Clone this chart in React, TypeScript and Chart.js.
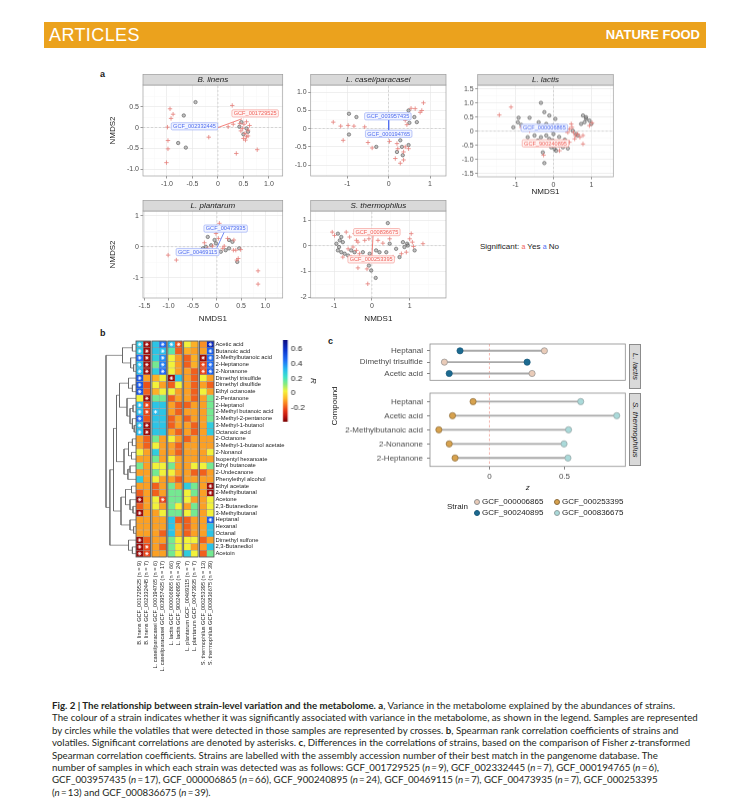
import React, { useEffect, useRef } from "react";
import { Chart, registerables } from "chart.js";
Chart.register(...registerables);

const FONT = "'Liberation Sans', Arial, Helvetica, sans-serif";
Chart.defaults.font.family = FONT;
Chart.defaults.color = "#4D4D4D";

// ================= Panel a: NMDS data =================
const nmdsTitles = ["B. linens", "L. casei/paracasei", "L. lactis", "L. plantarum", "S. thermophilus"];

const blinensSamples = [[-0.44, 0.61], [-0.67, 0.29], [-0.78, -0.37], [-0.63, -0.48], [0.46, 0.13], [0.56, -0.02], [0.5, -0.16], [0.59, -0.1], [0.42, 0.02]];
const blinensVolatiles = [[-0.94, 0.45], [-0.88, 0.32], [-0.92, 0.22], [-0.99, 0.01], [-0.98, -0.31], [-0.98, -0.51], [-1.01, -0.84], [-0.18, -0.23], [0.28, 0.53], [0.36, -0.62], [0.77, -0.53], [0.43, 0.1], [0.51, 0.08], [0.56, 0.14], [0.48, -0.02], [0.59, -0.06], [0.53, -0.14], [0.56, -0.22], [0.5, -0.26], [0.54, -0.3], [0.59, -0.2], [0.3, 0.08], [0.2, 0.02], [0.62, 0.05], [0.45, -0.08]];
const blinensXTicks = [-1.0, -0.5, 0, 0.5, 1.0];
const blinensYTicks = [-1.0, -0.5, 0, 0.5];
const blinensLabels = [{ x: 0.73, y: 0.34, text: "GCF_001729525", sig: true }, { x: -0.46, y: 0.03, text: "GCF_002332445", sig: false }];
const blinensVectors = [{ from: [0, 0], to: [0.47, 0.21], sig: true }];

const caseiSamples = [[-0.96, 0.41], [-0.78, 0.32], [-0.96, -0.16], [-0.3, -0.5], [0.5, 0.16], [0.62, 0.32], [0.68, 0.18], [0.48, 0.5], [0.28, -0.32], [0.2, -0.64], [0.34, -0.73], [0.32, -0.5], [0.48, -0.45]];
const caseiVolatiles = [[-1.34, 0.18], [-1.16, 0.07], [-0.98, 0.09], [-0.84, 0.07], [-1.1, -0.32], [-0.58, 0.05], [-0.5, -0.38], [-0.4, -0.53], [-0.24, -0.18], [0.02, -0.35], [0.2, -0.41], [0.54, 0.56], [0.64, 0.55], [0.8, 0.5], [0.84, 0.71], [0.76, 0.45], [0.4, 0.23], [0.28, 0.36], [0.44, 0.11], [0.22, -0.55], [0.36, -0.64], [0.16, -0.82], [0.36, -0.86], [0.28, -0.95], [0.4, -0.5], [0.48, -0.55]];
const caseiXTicks = [-1, 0, 1];
const caseiYTicks = [-1.0, -0.5, 0, 0.5, 1.0];
const caseiLabels = [{ x: -0.02, y: 0.34, text: "GCF_003957435", sig: false }, { x: 0, y: -0.14, text: "GCF_000194765", sig: false }];
const caseiVectors = [{ from: [0, 0.25], to: [0, -0.04], sig: false }];

const lactisSamples = [[-0.33, 1.01], [-0.92, 0.48], [-0.63, 0.48], [-1.06, 0.14], [-0.94, 0.32], [-0.85, 0.23], [-0.24, 0.68], [-0.11, 0.56], [0.05, 0.44], [-0.39, 0.32], [-0.19, 0.26], [-0.02, 0.2], [0.11, 0.2], [0.25, 0.08], [-0.5, -0.15], [-0.33, -0.21], [-0.19, -0.15], [-0.11, -0.27], [-0.02, -0.33], [0.07, -0.39], [0.16, -0.51], [-0.06, -0.57], [0.03, -0.63], [-0.15, -0.45], [-0.28, -0.75], [-0.24, -1.13], [0.07, -0.69], [0.25, -0.57], [0.38, -0.61], [0.78, 0.56], [0.86, 0.44], [0.95, 0.38], [0.82, 0.32], [0.73, 0.26], [1.0, 0.26], [0.86, 0.5], [0.51, 0.02], [0.6, -0.1], [0.64, -0.15], [-0.28, -0.39], [-0.41, -0.33], [-0.68, -0.21], [0.0, -0.1], [0.15, -0.2], [-0.05, 0.05], [0.3, -0.3]];
const lactisVolatiles = [[-1.12, 0.86], [-1.43, 0.58], [-0.85, 0.14], [-0.63, 0.02], [-0.41, 0.08], [0.33, 0.02], [0.42, 0.08], [0.49, 0.14], [0.53, -0.04], [0.58, -0.15], [0.64, -0.1], [0.7, -0.21], [0.78, -0.15], [0.56, -0.27], [0.42, -0.39], [-0.26, -0.85], [0.16, -0.69], [0.29, -0.33], [0.78, -0.45], [0.95, 0.2], [1.02, 0.3], [0.47, 0.26], [0.38, -0.04]];
const lactisXTicks = [-1, 0, 1];
const lactisYTicks = [-1.5, -1.0, -0.5, 0, 0.5, 1.0, 1.5];
const lactisLabels = [{ x: -0.24, y: 0.12, text: "GCF_000006865", sig: false }, { x: -0.21, y: -0.43, text: "GCF_900240895", sig: true }];
const lactisVectors = [];

const plantarumSamples = [[-0.19, 0.32], [-0.05, 0.22], [-0.12, 0.05], [-0.23, 0.0], [-0.02, 0.11], [0.25, 0.22], [0.32, 0.16], [0.08, -0.16], [0.18, -0.11], [0.25, -0.05], [0.46, -0.05], [0.42, -0.49], [-0.29, -0.05]];
const plantarumVolatiles = [[-1.01, -0.27], [-0.84, -0.43], [-0.26, 0.13], [-0.19, -0.05], [-0.09, 0.02], [0.05, 0.76], [-0.02, 0.43], [0.03, 0.27], [0.22, 0.27], [0.35, 0.22], [0.34, -0.11], [0.39, -0.11], [0.49, -0.09], [0.44, -0.38], [0.41, -0.43], [0.85, -0.78], [0.85, -1.21], [0.12, -0.05], [0.15, 0.02]];
const plantarumXTicks = [-1.5, -1.0, -0.5, 0, 0.5, 1.0];
const plantarumYTicks = [-1, 0, 1];
const plantarumLabels = [{ x: 0.18, y: 0.59, text: "GCF_00473935", sig: false }, { x: -0.4, y: -0.17, text: "GCF_00469115", sig: false }];
const plantarumVectors = [{ from: [0.0, -0.03], to: [0.15, 0.48], sig: false }];

const thermoSamples = [[-0.9, 0.47], [-0.81, 0.34], [-0.85, 0.21], [-0.77, 0.14], [-0.94, 0.08], [-0.87, -0.05], [-0.81, -0.25], [-0.72, -0.31], [-0.63, -0.38], [-0.55, -0.18], [-0.46, -0.25], [-0.9, -0.18], [-0.13, -0.51], [-0.08, -0.77], [-0.02, -0.96], [0.1, -1.25], [0.2, -0.25], [0.38, -0.25], [0.47, 0.08], [0.64, -0.12], [0.82, 0.14], [0.93, 0.08], [0.95, 0.01], [0.86, -0.05], [1.13, -0.18], [0.73, -0.44], [0.11, -0.18], [-0.06, -0.31], [-0.24, -0.25], [0.42, 0.88]];
const thermoVolatiles = [[-1.05, 0.53], [-0.99, 0.4], [-0.68, 0.53], [-0.59, 0.34], [-0.46, 0.47], [-0.37, 0.14], [-0.5, -0.05], [-0.63, -0.12], [-0.41, -0.18], [-0.33, -0.31], [-0.77, -0.44], [-0.55, -0.44], [-0.41, 0.21], [-0.19, 0.21], [-0.08, 0.27], [0.16, 0.21], [0.29, 0.1], [0.47, 0.27], [0.78, -0.31], [1.04, 0.47], [1.0, 0.27], [1.07, 0.14], [1.1, -0.03], [1.35, 0.08], [-0.13, -0.9], [-0.11, -1.48], [-0.37, -0.86], [0.56, -0.44], [0.91, -0.25]];
const thermoXTicks = [-1, 0, 1];
const thermoYTicks = [-2, -1, 0, 1];
const thermoLabels = [{ x: 0.13, y: 0.53, text: "GCF_000836675", sig: true }, { x: -0.02, y: -0.53, text: "GCF_000253395", sig: true }];
const thermoVectors = [{ from: [0.03, 0.4], to: [0.0, -0.4], sig: true }];

// ================= Panel b: heatmap data =================
const compounds = ["Acetic acid", "Butanoic acid", "3-Methylbutanoic acid", "2-Heptanone", "2-Nonanone", "Dimethyl trisulfide", "Dimethyl disulfide", "Ethyl octanoate", "2-Pentanone", "2-Heptanol", "2-Methyl butanoic acid", "3-Methyl-2-pentanone", "3-Methyl-1-butanol", "Octanoic acid", "2-Octanone", "3-Methyl-1-butanol acetate", "2-Nonanol", "Isopentyl hexanoate", "Ethyl butanoate", "2-Undecanone", "Phenylethyl alcohol", "Ethyl acetate", "2-Methylbutanal", "Acetone", "2,3-Butanedione", "3-Methylbutanal", "Heptanal", "Hexanal", "Octanal", "Dimethyl sulfone", "2,3-Butanediol", "Acetoin"];
const strainColumns = ["B. linens GCF_001729525 (n = 9)", "B. linens GCF_002332445 (n = 7)", "L. casei/paracasei GCF_000194765 (n = 6)", "L. casei/paracasei GCF_003957435 (n = 17)", "L. lactis GCF_000006865 (n = 66)", "L. lactis GCF_900240895 (n = 24)", "L. plantarum GCF_00469115 (n = 7)", "L. plantarum GCF_00473935 (n = 7)", "S. thermophilus GCF_000253395 (n = 13)", "S. thermophilus GCF_000836675 (n = 39)"];
const corrMatrix = [
  [0.30, -0.35, 0.30, 0.45, 0.32, -0.20, 0.03, -0.08, -0.12, 0.62],
  [0.30, -0.35, 0.30, 0.32, 0.18, -0.18, -0.08, -0.10, -0.10, 0.48],
  [0.45, -0.35, 0.28, 0.40, 0.03, -0.10, -0.18, -0.08, -0.35, 0.45],
  [0.32, -0.35, 0.15, 0.42, 0.03, -0.10, -0.18, -0.08, -0.22, 0.45],
  [0.33, -0.35, 0.28, 0.45, 0.03, -0.10, -0.10, -0.18, -0.22, 0.48],
  [0.50, -0.10, -0.08, 0.03, -0.35, 0.30, -0.10, -0.18, 0.03, -0.10],
  [0.50, -0.20, 0.03, -0.10, -0.18, 0.03, -0.10, -0.18, -0.10, -0.18],
  [0.50, -0.18, -0.08, 0.03, 0.03, -0.10, -0.10, -0.18, 0.03, -0.10],
  [0.03, -0.35, 0.15, 0.15, -0.18, -0.10, -0.10, -0.18, -0.10, 0.15],
  [0.32, -0.22, 0.30, 0.30, -0.10, -0.18, -0.18, -0.10, -0.10, 0.15],
  [0.32, -0.22, 0.32, 0.30, -0.10, -0.18, -0.10, -0.10, -0.10, 0.15],
  [0.45, -0.20, 0.30, 0.30, -0.18, -0.10, -0.18, -0.10, -0.10, 0.15],
  [0.32, -0.35, 0.30, 0.30, -0.18, -0.10, -0.10, -0.18, -0.10, 0.28],
  [0.32, -0.35, 0.30, 0.30, -0.10, -0.18, -0.10, -0.18, -0.10, 0.28],
  [-0.10, -0.18, 0.15, -0.10, 0.03, -0.10, -0.18, -0.10, -0.10, -0.10],
  [-0.10, -0.18, 0.03, -0.10, -0.10, -0.18, -0.10, -0.10, -0.10, -0.10],
  [0.03, -0.10, 0.28, -0.10, -0.10, -0.18, -0.10, -0.10, -0.10, 0.03],
  [-0.10, -0.10, 0.15, -0.10, 0.03, -0.10, -0.10, -0.10, -0.10, -0.10],
  [0.15, -0.10, 0.03, 0.03, 0.15, -0.10, -0.10, 0.03, 0.03, 0.15],
  [-0.10, -0.10, 0.15, 0.03, 0.03, -0.10, -0.10, -0.18, -0.18, -0.10],
  [0.28, -0.10, 0.03, -0.10, -0.10, -0.18, -0.10, -0.10, -0.10, -0.10],
  [-0.10, -0.10, -0.18, -0.10, 0.15, -0.10, 0.28, 0.15, -0.10, -0.35],
  [-0.18, -0.10, -0.18, -0.10, 0.15, 0.15, 0.03, 0.15, -0.10, -0.35],
  [-0.35, -0.10, 0.03, -0.22, 0.15, 0.15, 0.03, -0.10, -0.10, 0.03],
  [-0.18, -0.10, 0.03, -0.10, 0.15, 0.03, -0.10, 0.15, -0.10, 0.03],
  [-0.35, -0.10, -0.10, 0.03, 0.15, 0.15, 0.03, 0.15, -0.10, 0.03],
  [-0.10, -0.10, -0.10, -0.10, 0.30, -0.18, -0.18, -0.10, -0.10, 0.48],
  [-0.10, -0.10, -0.10, -0.10, 0.30, -0.10, -0.18, -0.10, -0.10, 0.30],
  [-0.10, -0.10, -0.10, -0.18, 0.30, -0.10, -0.18, -0.10, -0.10, 0.30],
  [-0.35, -0.18, -0.10, -0.10, 0.15, 0.03, 0.03, 0.03, -0.18, -0.10],
  [-0.35, -0.22, -0.10, -0.18, 0.15, 0.03, 0.03, -0.10, -0.10, 0.30],
  [-0.35, -0.22, -0.10, -0.10, 0.15, 0.03, 0.28, 0.03, -0.18, 0.15],
];
// significant cells (column indices) per compound row
const sigCells = [[0, 1, 3, 4, 5, 9], [0, 1, 3, 9], [0, 1, 3, 8, 9], [0, 1, 3, 8, 9], [0, 1, 3, 8, 9], [0, 4], [0], [0], [1], [0, 1], [0, 1, 2], [0], [0, 1], [0, 1], [], [], [], [], [], [], [], [9], [9], [0, 3], [], [0], [9], [], [], [0], [0, 1], [0, 1]];
// hierarchical clustering of compounds: [left, right, height], leaves = row index
const clusterAcids = [[0, 1, 0.12], [2, [3, 4, 0.08], 0.18], 0.45];
const clusterSulfur = [[5, [6, 7, 0.12], 0.25], [8, [[9, 10, 0.1], [11, [12, 13, 0.06], 0.12], 0.2], 0.3], 0.55];
const clusterEsters = [[[14, 15, 0.12], [16, 17, 0.15], 0.25], [[18, 19, 0.2], 20, 0.27], 0.4];
const clusterCarbonyl = [[21, 22, 0.15], [23, [24, 25, 0.1], 0.2], 0.35];
const clusterAldehydes = [26, [27, 28, 0.08], 0.2];
const clusterDiols = [29, [30, 31, 0.12], 0.25];
const dendroTree = [clusterAcids, [[[clusterSulfur, clusterEsters, 0.65], [clusterCarbonyl, clusterAldehydes, 0.5], 0.75], clusterDiols, 0.87], 1.0];
// colour scale
const paletteValues = [-0.39, -0.31, -0.23, -0.15, -0.07, 0.03, 0.12, 0.22, 0.33, 0.45, 0.6, 0.73];
const paletteColors = ["#7A0000", "#C0140F", "#E63A16", "#F7771F", "#FDB827", "#F2F23A", "#8CEB7A", "#3DE3C8", "#25B8F0", "#1E6CF5", "#0A2FC8", "#0B0B80"];
const colorbarRange = [-0.387, 0.726];
const colorbarTicks = [-0.2, 0, 0.2, 0.4, 0.6];

// ================= Panel c: lollipop data =================
const lactisCompounds = ["Heptanal", "Dimethyl trisulfide", "Acetic acid"];
const lactisZ_000006865 = [0.366, -0.3, 0.284];
const lactisZ_900240895 = [-0.196, 0.251, -0.268];
const thermoCompounds = ["Heptanal", "Acetic acid", "2-Methylbutanoic acid", "2-Nonanone", "2-Heptanone"];
const thermoZ_000253395 = [-0.109, -0.246, -0.337, -0.268, -0.229];
const thermoZ_000836675 = [0.608, 0.848, 0.527, 0.497, 0.523];
const lolliXTicks = [0, 0.5];
const lolliXRange = [-0.396, 0.905];
const strainNames = ["GCF_000006865", "GCF_000253395", "GCF_900240895", "GCF_000836675"];
const strainFill = { GCF_000006865: "#E9CBB8", GCF_000253395: "#D7A24E", GCF_900240895: "#1C6A90", GCF_000836675: "#AADADA" };
const strainStroke = { GCF_000006865: "#8F8F8F", GCF_000253395: "#8A6A3A", GCF_900240895: "#17587A", GCF_000836675: "#8F9F9F" };

// ================= helpers =================
const SIG = {
  yes: { text: "#F0625A", stroke: "#F3938D", fill: "#FFF3F2" },
  no: { text: "#4E6CF0", stroke: "#8EA2F5", fill: "#F1F4FF" },
};

function hexToRgb(h) {
  const n = parseInt(h.slice(1), 16);
  return [(n >> 16) & 255, (n >> 8) & 255, n & 255];
}
function corrColor(v) {
  const vals = paletteValues;
  if (v <= vals[0]) return paletteColors[0];
  if (v >= vals[vals.length - 1]) return paletteColors[vals.length - 1];
  for (let i = 0; i < vals.length - 1; i++) {
    if (v >= vals[i] && v <= vals[i + 1]) {
      const t = (v - vals[i]) / (vals[i + 1] - vals[i]);
      const a = hexToRgb(paletteColors[i]), b = hexToRgb(paletteColors[i + 1]);
      const c = a.map((x, k) => Math.round(x + (b[k] - x) * t));
      return `rgb(${c[0]},${c[1]},${c[2]})`;
    }
  }
  return "#fff";
}
function fmtTick(v, dec) {
  if (Math.abs(v) < 1e-9) return "0";
  return (v < 0 ? "-" : "") + Math.abs(v).toFixed(dec);
}
function withMinor(major, range) {
  const out = [...major];
  for (let i = 0; i < major.length - 1; i++) out.push((major[i] + major[i + 1]) / 2);
  const step = major[1] - major[0];
  const lo = major[0] - step / 2, hi = major[major.length - 1] + step / 2;
  if (lo > range[0]) out.push(lo);
  if (hi < range[1]) out.push(hi);
  return out.sort((a, b) => a - b);
}

const framePlugin = {
  id: "frame",
  afterDatasetsDraw(chart, _a, opts) {
    const a = chart.chartArea;
    const ctx = chart.ctx;
    ctx.save();
    ctx.strokeStyle = (opts && opts.color) || "#999";
    ctx.lineWidth = (opts && opts.width) || 0.7;
    ctx.strokeRect(a.left, a.top, a.right - a.left, a.bottom - a.top);
    ctx.restore();
  },
};

const stripPlugin = {
  id: "strip",
  afterDraw(chart, _a, opts) {
    if (!opts || !opts.text) return;
    const a = chart.chartArea;
    const ctx = chart.ctx;
    const h = opts.height;
    ctx.save();
    ctx.fillStyle = "#D9D9D9";
    ctx.fillRect(a.left, a.top - h, a.right - a.left, h);
    ctx.strokeStyle = "#9A9A9A";
    ctx.lineWidth = 0.7;
    ctx.strokeRect(a.left, a.top - h, a.right - a.left, h);
    ctx.fillStyle = "#1A1A1A";
    ctx.font = `italic 8px ${FONT}`;
    ctx.textAlign = "center";
    ctx.textBaseline = "middle";
    ctx.fillText(opts.text, (a.left + a.right) / 2, a.top - h / 2 + 0.5);
    ctx.restore();
  },
};

const gcfLabelPlugin = {
  id: "gcfLabels",
  afterDatasetsDraw(chart, _a, opts) {
    const items = (opts && opts.items) || [];
    const ctx = chart.ctx;
    const xs = chart.scales.x, ys = chart.scales.y;
    ctx.save();
    ctx.font = `5.6px ${FONT}`;
    ctx.textAlign = "center";
    ctx.textBaseline = "middle";
    for (const it of items) {
      const px = xs.getPixelForValue(it.x), py = ys.getPixelForValue(it.y);
      const w = ctx.measureText(it.text).width + 3.6, h = 7.2;
      const c = it.sig ? SIG.yes : SIG.no;
      ctx.beginPath();
      if (ctx.roundRect) ctx.roundRect(px - w / 2, py - h / 2, w, h, 1.3);
      else ctx.rect(px - w / 2, py - h / 2, w, h);
      ctx.fillStyle = c.fill;
      ctx.fill();
      ctx.lineWidth = 0.6;
      ctx.strokeStyle = c.stroke;
      ctx.stroke();
      ctx.fillStyle = c.text;
      ctx.fillText(it.text, px, py + 0.3);
    }
    ctx.restore();
  },
};

function nmdsAxis(major, range, fit, title, showTitle) {
  const dec = major.some((v) => !Number.isInteger(v)) ? 1 : 0;
  const all = withMinor(major, range);
  const isMaj = (v) => major.some((t) => Math.abs(t - v) < 1e-9);
  const tv = (c) => (c && c.tick ? c.tick.value : NaN);
  return {
    type: "linear",
    min: range[0],
    max: range[1],
    afterBuildTicks: (s) => { s.ticks = all.map((v) => ({ value: v })); },
    afterFit: fit,
    ticks: { autoSkip: false, maxRotation: 0, minRotation: 0, font: { size: 7 }, color: "#4D4D4D", padding: 1.5, callback: (v) => (isMaj(v) ? fmtTick(v, dec) : "") },
    grid: {
      color: (c) => (isMaj(tv(c)) ? "#E4E4E4" : "#F2F2F2"),
      lineWidth: (c) => (isMaj(tv(c)) ? 0.6 : 0.35),
      tickColor: (c) => (isMaj(tv(c)) ? "#555" : "rgba(0,0,0,0)"),
      tickLength: 2.5,
      drawTicks: true,
    },
    border: { display: false },
    title: { display: showTitle, text: title, font: { size: 8 }, color: "#1A1A1A", padding: 0 },
  };
}

function nmdsConfig(p) {
  const H = p.canvas.top + p.canvas.height;
  const R = p.canvas.left + p.canvas.width;
  const pts = (arr) => arr.map(([x, y]) => ({ x, y }));
  const datasets = [
    { type: "scatter", data: pts(p.samples), pointStyle: "circle", pointRadius: 1.7, pointBackgroundColor: "rgba(130,130,130,0.5)", pointBorderColor: "#555", pointBorderWidth: 0.6, order: 3 },
    { type: "scatter", data: pts(p.volatiles), pointStyle: "cross", pointRadius: 2.2, pointBorderColor: "#E57F7A", pointBorderWidth: 0.8, order: 2 },
    ...p.vectors.map((v) => ({ type: "line", data: [{ x: v.from[0], y: v.from[1] }, { x: v.to[0], y: v.to[1] }], borderColor: v.sig ? SIG.yes.text : SIG.no.text, borderWidth: 0.8, pointRadius: 0, order: 1 })),
    { type: "line", data: [{ x: p.xRange[0], y: 0 }, { x: p.xRange[1], y: 0 }], borderColor: "#C4C4C4", borderDash: [2, 2], borderWidth: 0.6, pointRadius: 0, order: 10 },
    { type: "line", data: [{ x: 0, y: p.yRange[0] }, { x: 0, y: p.yRange[1] }], borderColor: "#C4C4C4", borderDash: [2, 2], borderWidth: 0.6, pointRadius: 0, order: 10 },
  ];
  return {
    type: "scatter",
    data: { datasets },
    options: {
      animation: false,
      responsive: true,
      maintainAspectRatio: false,
      events: [],
      layout: { padding: { left: 0, top: p.area.t - p.canvas.top, right: R - p.area.r, bottom: 0 } },
      plugins: {
        legend: { display: false },
        tooltip: { enabled: false },
        frame: { color: "#A0A0A0", width: 0.7 },
        strip: { text: p.title, height: 10.5 },
        gcfLabels: { items: p.labels },
      },
      scales: {
        x: nmdsAxis(p.xTicks, p.xRange, (s) => { s.height = H - p.area.b; }, "NMDS1", p.xTitle),
        y: nmdsAxis(p.yTicks, p.yRange, (s) => { s.width = p.area.l - p.canvas.left; }, "NMDS2", p.yTitle),
      },
    },
    plugins: [framePlugin, stripPlugin, gcfLabelPlugin],
  };
}

const panelA = [
  { title: nmdsTitles[0], samples: blinensSamples, volatiles: blinensVolatiles, xTicks: blinensXTicks, yTicks: blinensYTicks, xRange: [-1.47, 1.27], yRange: [-1.16, 1.02], labels: blinensLabels, vectors: blinensVectors, area: { l: 143, t: 85, r: 282.7, b: 176 }, canvas: { left: 108, top: 73, width: 182, height: 117 }, xTitle: false, yTitle: true },
  { title: nmdsTitles[1], samples: caseiSamples, volatiles: caseiVolatiles, xTicks: caseiXTicks, yTicks: caseiYTicks, xRange: [-1.885, 1.385], yRange: [-1.3, 1.2], labels: caseiLabels, vectors: caseiVectors, area: { l: 310.7, t: 85, r: 446, b: 176 }, canvas: { left: 290, top: 73, width: 162, height: 117 }, xTitle: false, yTitle: false },
  { title: nmdsTitles[2], samples: lactisSamples, volatiles: lactisVolatiles, xTicks: lactisXTicks, yTicks: lactisYTicks, xRange: [-2.0, 1.58], yRange: [-1.62, 1.64], labels: lactisLabels, vectors: lactisVectors, area: { l: 477.7, t: 85, r: 613.3, b: 176 }, canvas: { left: 456, top: 73, width: 164, height: 122.8 }, xTitle: true, yTitle: false },
  { title: nmdsTitles[3], samples: plantarumSamples, volatiles: plantarumVolatiles, xTicks: plantarumXTicks, yTicks: plantarumYTicks, xRange: [-1.53, 1.36], yRange: [-1.66, 1.16], labels: plantarumLabels, vectors: plantarumVectors, area: { l: 143, t: 211, r: 282.7, b: 298 }, canvas: { left: 108, top: 199, width: 182, height: 124.1 }, xTitle: true, yTitle: true },
  { title: nmdsTitles[4], samples: thermoSamples, volatiles: thermoVolatiles, xTicks: thermoXTicks, yTicks: thermoYTicks, xRange: [-1.62, 1.96], yRange: [-2.03, 1.35], labels: thermoLabels, vectors: thermoVectors, area: { l: 310.7, t: 211, r: 446, b: 298 }, canvas: { left: 290, top: 199, width: 162, height: 124.1 }, xTitle: true, yTitle: false },
];

// ---------- heatmap ----------
const heatColX = strainColumns.map((_, j) => Math.floor(j / 2) * 2.2 + (j % 2));
const HEAT = { l: 136, t: 341, r: 214, b: 557, canvasLeft: 130, canvasTop: 335, canvasRight: 300, canvasBottom: 676 };

const groupFramePlugin = {
  id: "groupFrames",
  afterDatasetsDraw(chart) {
    const a = chart.chartArea;
    const xs = chart.scales.x;
    const ctx = chart.ctx;
    ctx.save();
    ctx.strokeStyle = "#4D4D4D";
    ctx.lineWidth = 0.8;
    for (let g = 0; g < strainColumns.length / 2; g++) {
      const x1 = xs.getPixelForValue(heatColX[2 * g] - 0.5);
      const x2 = xs.getPixelForValue(heatColX[2 * g + 1] + 0.5);
      ctx.strokeRect(x1, a.top, x2 - x1, a.bottom - a.top);
    }
    ctx.restore();
  },
};

function heatConfig() {
  const stars = [];
  sigCells.forEach((cols, i) => cols.forEach((j) => stars.push({ x: heatColX[j], y: compounds[i] })));
  const datasets = [
    { type: "scatter", data: stars, pointStyle: "star", pointRadius: 1.9, pointBorderColor: "#FFFFFF", pointBorderWidth: 0.7, pointBackgroundColor: "#FFFFFF" },
    ...strainColumns.map((_, j) => ({
      type: "bar",
      data: compounds.map(() => [heatColX[j] - 0.5, heatColX[j] + 0.5]),
      backgroundColor: compounds.map((_, i) => corrColor(corrMatrix[i][j])),
      borderColor: "rgba(70,70,70,0.45)",
      borderWidth: 0.5,
      borderSkipped: false,
      grouped: false,
      barPercentage: 1,
      categoryPercentage: 1,
    })),
  ];
  return {
    type: "bar",
    data: { labels: compounds, datasets },
    options: {
      indexAxis: "y",
      animation: false,
      responsive: true,
      maintainAspectRatio: false,
      events: [],
      layout: { padding: { left: HEAT.l - HEAT.canvasLeft, top: HEAT.t - HEAT.canvasTop, right: 0, bottom: 0 } },
      plugins: { legend: { display: false }, tooltip: { enabled: false } },
      scales: {
        x: {
          type: "linear",
          min: -0.5,
          max: heatColX[heatColX.length - 1] + 0.5,
          position: "bottom",
          afterBuildTicks: (s) => { s.ticks = heatColX.map((v) => ({ value: v })); },
          afterFit: (s) => { s.height = HEAT.canvasBottom - HEAT.b; },
          ticks: { autoSkip: false, minRotation: 90, maxRotation: 90, font: { size: 5.6 }, color: "#222", padding: 4, callback: (_v, i) => strainColumns[i] },
          grid: { display: false, drawTicks: false },
          border: { display: false },
        },
        y: {
          type: "category",
          position: "right",
          offset: true,
          afterFit: (s) => { s.width = HEAT.canvasRight - HEAT.r; },
          ticks: { autoSkip: false, font: { size: 5.8 }, color: "#222", padding: 1.5 },
          grid: { display: false, drawTicks: false },
          border: { display: false },
        },
      },
    },
    plugins: [groupFramePlugin],
  };
}

function dendroConfig() {
  const segs = [];
  const walk = (node) => {
    if (typeof node === "number") return { y: node, h: 0 };
    const a = walk(node[0]);
    const b = walk(node[1]);
    const h = node[2];
    segs.push([{ x: a.h, y: a.y }, { x: h, y: a.y }, { x: h, y: b.y }, { x: b.h, y: b.y }]);
    return { y: (a.y + b.y) / 2, h };
  };
  walk(dendroTree);
  return {
    type: "scatter",
    data: { datasets: segs.map((s) => ({ type: "line", data: s, borderColor: "#666", borderWidth: 0.7, pointRadius: 0, clip: 4 })) },
    options: {
      animation: false,
      responsive: true,
      maintainAspectRatio: false,
      events: [],
      layout: { padding: { left: 1, right: 1, top: 0, bottom: 0 } },
      plugins: { legend: { display: false }, tooltip: { enabled: false } },
      scales: {
        x: { type: "linear", min: 0, max: 1, reverse: true, display: false },
        y: { type: "linear", min: -0.5, max: compounds.length - 0.5, reverse: true, display: false },
      },
    },
  };
}

function colorbarConfig() {
  const CB = { l: 282.7, r: 287.5, t: 340, b: 421.7, canvasLeft: 278, canvasTop: 330, canvasRight: 317.5, canvasBottom: 431 };
  return {
    box: { left: CB.canvasLeft, top: CB.canvasTop, width: CB.canvasRight - CB.canvasLeft, height: CB.canvasBottom - CB.canvasTop },
    config: {
      type: "bar",
      data: {
        labels: ["R"],
        datasets: [{
          data: [colorbarRange],
          barPercentage: 1,
          categoryPercentage: 1,
          borderWidth: 0,
          backgroundColor: (ctx) => {
            const ch = ctx.chart;
            const a = ch.chartArea;
            if (!a) return "#fff";
            const g = ch.ctx.createLinearGradient(0, a.bottom, 0, a.top);
            paletteValues.forEach((v, i) => {
              const t = Math.min(1, Math.max(0, (v - colorbarRange[0]) / (colorbarRange[1] - colorbarRange[0])));
              g.addColorStop(t, paletteColors[i]);
            });
            return g;
          },
        }],
      },
      options: {
        animation: false,
        responsive: true,
        maintainAspectRatio: false,
        events: [],
        layout: { padding: { left: CB.l - CB.canvasLeft, top: CB.t - CB.canvasTop, right: 0, bottom: CB.canvasBottom - CB.b } },
        plugins: { legend: { display: false }, tooltip: { enabled: false } },
        scales: {
          x: { type: "category", display: false },
          y: {
            type: "linear",
            position: "right",
            min: colorbarRange[0],
            max: colorbarRange[1],
            afterBuildTicks: (s) => { s.ticks = colorbarTicks.map((v) => ({ value: v })); },
            afterFit: (s) => { s.width = CB.canvasRight - CB.r; },
            ticks: { font: { size: 8 }, color: "#222", padding: 3, callback: (v) => fmtTick(v, 1) },
            grid: { display: false, drawTicks: false },
            border: { display: false },
            title: { display: true, text: "R", font: { size: 8, style: "italic" }, color: "#222", padding: 0 },
          },
        },
      },
    },
  };
}

// ---------- lollipop ----------
function lolliConfig(names, aVals, bVals, aStrain, bStrain, canvas, area, showX) {
  const n = names.length;
  const H = canvas.top + canvas.height;
  const R = canvas.left + canvas.width;
  const pointDs = (vals, s) => ({
    type: "scatter",
    data: names.map((_, i) => ({ x: vals[i], y: i + 1 })),
    pointRadius: 3.1,
    pointBackgroundColor: strainFill[s],
    pointBorderColor: strainStroke[s],
    pointBorderWidth: 0.7,
    order: 0,
  });
  const datasets = [
    pointDs(aVals, aStrain),
    pointDs(bVals, bStrain),
    ...names.map((_, i) => ({ type: "line", data: [{ x: aVals[i], y: i + 1 }, { x: bVals[i], y: i + 1 }], borderColor: "#A9A9A9", borderWidth: 1.9, pointRadius: 0, order: 2 })),
    { type: "line", data: [{ x: 0, y: 0.4 }, { x: 0, y: n + 0.6 }], borderColor: "#F2A39B", borderWidth: 0.8, borderDash: [2.5, 2], pointRadius: 0, order: 3 },
  ];
  return {
    type: "scatter",
    data: { datasets },
    options: {
      animation: false,
      responsive: true,
      maintainAspectRatio: false,
      events: [],
      layout: { padding: { left: 0, right: R - area.r, top: area.t - canvas.top, bottom: showX ? 0 : H - area.b } },
      plugins: { legend: { display: false }, tooltip: { enabled: false }, frame: { color: "#8C8C8C", width: 0.8 } },
      scales: {
        x: {
          type: "linear",
          display: showX,
          min: lolliXRange[0],
          max: lolliXRange[1],
          afterBuildTicks: (s) => { s.ticks = lolliXTicks.map((v) => ({ value: v })); },
          afterFit: (s) => { s.height = H - area.b; },
          ticks: { font: { size: 8 }, color: "#4D4D4D", padding: 2.2, callback: (v) => fmtTick(v, 1) },
          grid: { drawOnChartArea: false, drawTicks: true, tickLength: 3, tickColor: "#4D4D4D", lineWidth: 0.7 },
          border: { display: false },
          title: { display: true, text: "z", font: { size: 8, style: "italic" }, color: "#1A1A1A", padding: { top: 0, bottom: 4.2 } },
        },
        y: {
          type: "linear",
          min: 0.4,
          max: n + 0.6,
          reverse: true,
          afterBuildTicks: (s) => { s.ticks = names.map((_, i) => ({ value: i + 1 })); },
          afterFit: (s) => { s.width = area.l - canvas.left; },
          ticks: { font: { size: 8 }, color: "#4D4D4D", padding: 4, autoSkip: false, callback: (v) => names[Math.round(v) - 1] },
          grid: { drawOnChartArea: false, drawTicks: true, tickLength: 3, tickColor: "#4D4D4D", lineWidth: 0.7 },
          border: { display: false },
        },
      },
    },
    plugins: [framePlugin],
  };
}

// ================= components =================
function ChartBox({ box, config }) {
  const ref = useRef(null);
  useEffect(() => {
    const chart = new Chart(ref.current, config);
    return () => chart.destroy();
  }, []);
  return (
    <div style={{ position: "absolute", left: box.left, top: box.top, width: box.width, height: box.height }}>
      <canvas ref={ref} />
    </div>
  );
}

const txt = (extra) => ({ position: "absolute", fontFamily: FONT, whiteSpace: "nowrap", color: "#1A1A1A", ...extra });

export default function App() {
  const cb = colorbarConfig();
  const lolliTopCanvas = { left: 340, top: 334, width: 290, height: 64.3 };
  const lolliTopArea = { l: 430, t: 344, r: 629, b: 389.3 };
  const lolliBotCanvas = { left: 340, top: 383.3, width: 290, height: 112.7 };
  const lolliBotArea = { l: 430, t: 393.3, r: 629, b: 466 };
  const n = (k) => (<><i>n</i>{"\u2009=\u2009"}{k}</>);
  const captionLines = [
    <><b>Fig. 2 | The relationship between strain-level variation and the metabolome. a</b>, Variance in the metabolome explained by the abundances of strains.</>,
    <>The colour of a strain indicates whether it was significantly associated with variance in the metabolome, as shown in the legend. Samples are represented</>,
    <>by circles while the volatiles that were detected in those samples are represented by crosses. <b>b</b>, Spearman rank correlation coefficients of strains and</>,
    <>volatiles. Significant correlations are denoted by asterisks. <b>c</b>, Differences in the correlations of strains, based on the comparison of Fisher <i>z</i>-transformed</>,
    <>Spearman correlation coefficients. Strains are labelled with the assembly accession number of their best match in the pangenome database. The</>,
    <>number of samples in which each strain was detected was as follows: GCF_001729525 ({n(9)}), GCF_002332445 ({n(7)}), GCF_000194765 ({n(6)}),</>,
    <>GCF_003957435 ({n(17)}), GCF_000006865 ({n(66)}), GCF_900240895 ({n(24)}), GCF_00469115 ({n(7)}), GCF_00473935 ({n(7)}), GCF_000253395</>,
    <>({n(13)}) and GCF_000836675 ({n(39)}).</>,
  ];
  const legendItems = [
    { s: strainNames[0], x: 477, y: 502 },
    { s: strainNames[1], x: 557, y: 502 },
    { s: strainNames[2], x: 477, y: 513 },
    { s: strainNames[3], x: 557, y: 513 },
  ];
  return (
    <div style={{ position: "absolute", left: 0, top: 0, width: 750, height: 810, background: "#fff", overflow: "hidden", fontFamily: FONT }}>
      {/* header */}
      <div style={{ position: "absolute", left: 44, top: 22, width: 662, height: 26, background: "#EBA21D" }}>
        <span style={txt({ left: 5, top: 0, lineHeight: "26px", fontSize: 18, color: "#fff", letterSpacing: 0.4 })}>ARTICLES</span>
        <span style={txt({ right: 6, top: 0, lineHeight: "26px", fontSize: 13, fontWeight: 700, color: "#fff" })}>NATURE FOOD</span>
      </div>

      {/* panel letters */}
      <span style={txt({ left: 100, top: 68, fontSize: 9, fontWeight: 700, lineHeight: "12px" })}>a</span>
      <span style={txt({ left: 100, top: 327, fontSize: 9, fontWeight: 700, lineHeight: "12px" })}>b</span>
      <span style={txt({ left: 328, top: 335, fontSize: 9, fontWeight: 700, lineHeight: "12px" })}>c</span>

      {/* panel a */}
      {panelA.map((p, i) => (<ChartBox key={"a" + i} box={p.canvas} config={nmdsConfig(p)} />))}
      <div style={txt({ left: 480, top: 241, fontSize: 8, lineHeight: "11px", color: "#1A1A1A" })}>
        Significant:{" "}
        <span style={{ color: SIG.yes.text, fontSize: 7 }}>a</span> Yes{" "}
        <span style={{ color: SIG.no.text, fontSize: 7 }}>a</span> No
      </div>

      {/* panel b */}
      <ChartBox box={{ left: 105, top: HEAT.t, width: 32, height: HEAT.b - HEAT.t }} config={dendroConfig()} />
      <ChartBox box={{ left: HEAT.canvasLeft, top: HEAT.canvasTop, width: HEAT.canvasRight - HEAT.canvasLeft, height: HEAT.canvasBottom - HEAT.canvasTop }} config={heatConfig()} />
      <ChartBox box={cb.box} config={cb.config} />

      {/* panel c */}
      <ChartBox box={lolliTopCanvas} config={lolliConfig(lactisCompounds, lactisZ_000006865, lactisZ_900240895, "GCF_000006865", "GCF_900240895", lolliTopCanvas, lolliTopArea, false)} />
      <ChartBox box={lolliBotCanvas} config={lolliConfig(thermoCompounds, thermoZ_000253395, thermoZ_000836675, "GCF_000253395", "GCF_000836675", lolliBotCanvas, lolliBotArea, true)} />
      {[{ t: lolliTopArea.t, b: lolliTopArea.b, label: "L. lactis" }, { t: lolliBotArea.t, b: lolliBotArea.b, label: "S. thermophilus" }].map((s, i) => (
        <div key={"strip" + i} style={{ position: "absolute", left: 629, top: s.t, width: 12, height: s.b - s.t, boxSizing: "border-box", background: "#D9D9D9", border: "0.8px solid #8C8C8C", display: "flex", alignItems: "center", justifyContent: "center" }}>
          <span style={{ writingMode: "vertical-rl", fontStyle: "italic", fontSize: 8, color: "#1A1A1A", whiteSpace: "nowrap", fontFamily: FONT }}>{s.label}</span>
        </div>
      ))}
      <div style={txt({ left: 334, top: 406, fontSize: 8, transform: "translate(-50%,-50%) rotate(-90deg)" })}>Compound</div>
      <div style={txt({ left: 447, top: 501, fontSize: 8, lineHeight: "12px" })}>Strain</div>
      {legendItems.map((it) => (
        <React.Fragment key={it.s}>
          <div style={{ position: "absolute", left: it.x - 3, top: it.y - 3, width: 6, height: 6, borderRadius: 3, boxSizing: "border-box", background: strainFill[it.s], border: `0.7px solid ${strainStroke[it.s]}` }} />
          <div style={txt({ left: it.x + 5, top: it.y - 6, fontSize: 8, lineHeight: "12px", color: "#1A1A1A" })}>{it.s}</div>
        </React.Fragment>
      ))}

      {/* caption */}
      <div style={{ position: "absolute", left: 52, top: 699, fontFamily: "Lato, 'Open Sans', sans-serif", fontSize: 9.7, lineHeight: "12.4px", color: "#231F20" }}>
        {captionLines.map((l, i) => (<div key={i} style={{ whiteSpace: "nowrap" }}>{l}</div>))}
      </div>
    </div>
  );
}
